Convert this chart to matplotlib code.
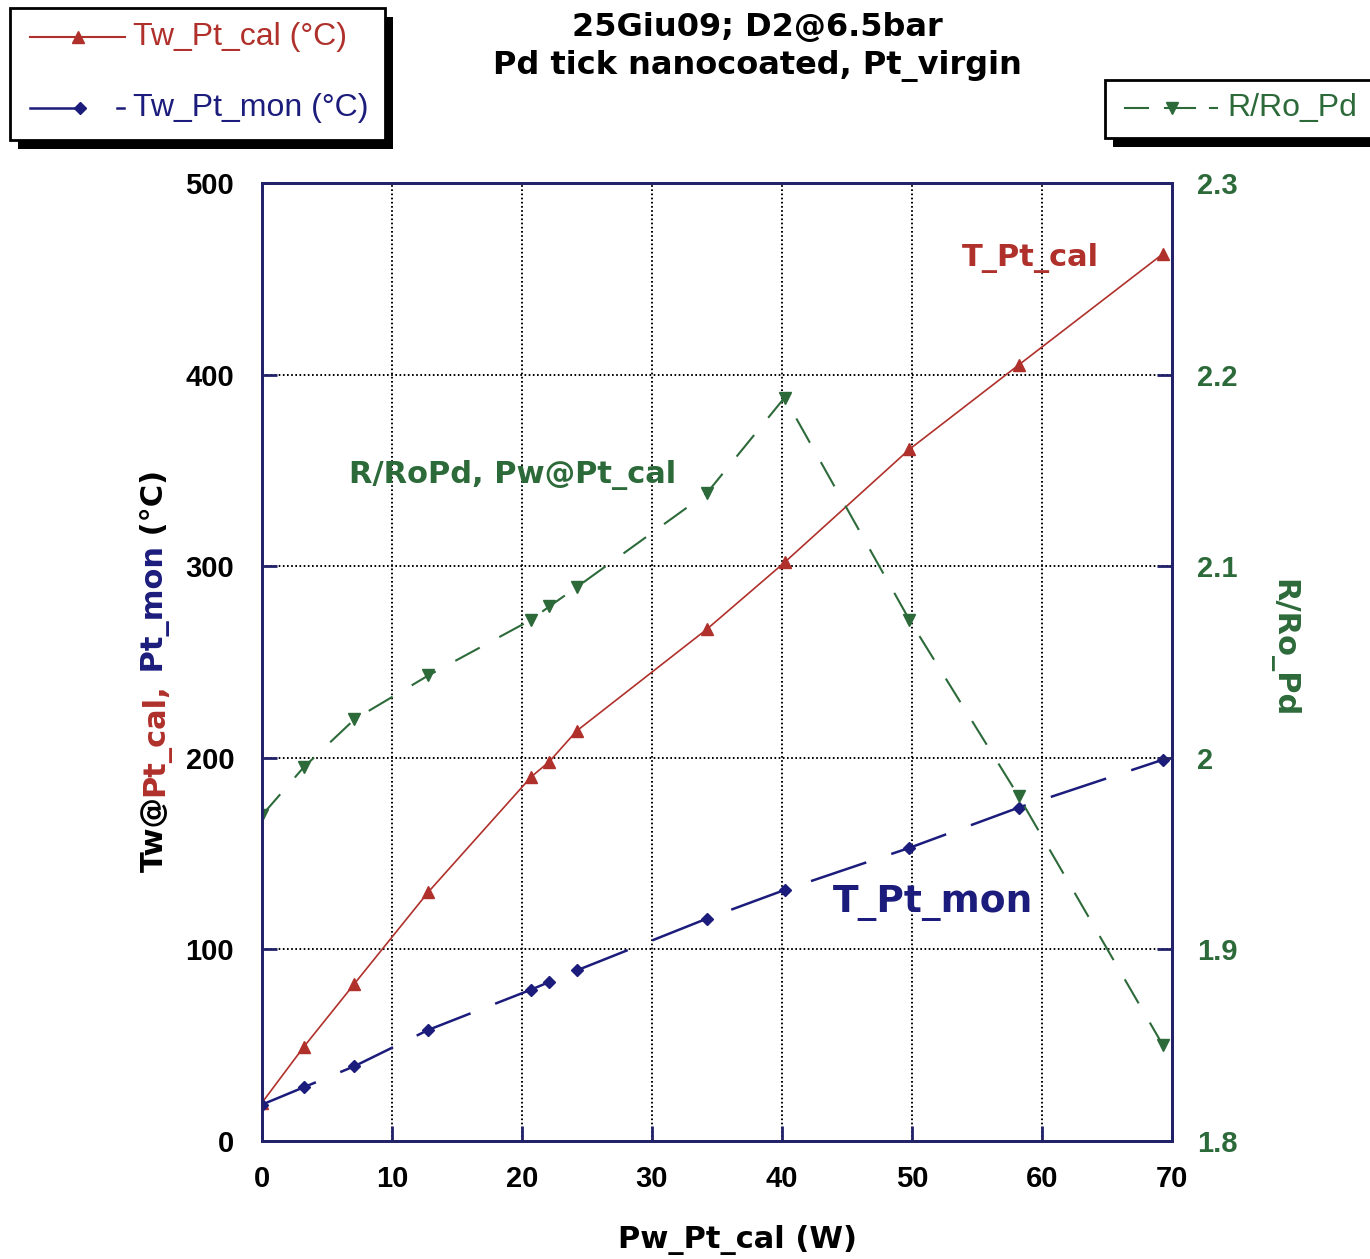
import matplotlib
matplotlib.use("Agg")
import matplotlib.pyplot as plt
from matplotlib.patches import Rectangle
from matplotlib.lines import Line2D

# data
pw = [0, 3.2, 7.1, 12.8, 20.7, 22.1, 24.2, 34.2, 40.2, 49.8, 58.2, 69.3]
t_cal = [20, 49, 82, 130, 190, 198, 214, 267, 302, 361, 405, 463]
t_mon = [19, 28, 39, 58, 79, 83, 89, 116, 131, 153, 174, 199]
r_ro = [1.970, 1.995, 2.020, 2.043, 2.072, 2.079, 2.089, 2.138, 2.188, 2.072, 1.980, 1.850]

x_ticks = [0, 10, 20, 30, 40, 50, 60, 70]
y_ticks = [0, 100, 200, 300, 400, 500]
r_ticks = [1.8, 1.9, 2.0, 2.1, 2.2, 2.3]

RED = "#b0302b"
BLUE = "#1c1c7c"
GREEN = "#2d6a3a"
NAVY = "#22226a"
BOLD = 'DejaVu Sans'

W, H = 1370, 1259
plt.rcParams['lines.scale_dashes'] = False
plt.rcParams['font.family'] = ['Liberation Sans', 'DejaVu Sans']

fig = plt.figure(figsize=(W / 100, H / 100), dpi=100)
fig.patch.set_facecolor('white')


def fx(x):
    return x / W


def fy(y):
    return 1 - y / H


ax = fig.add_axes([fx(262), fy(1141), 910 / W, 958 / H])
ax2 = ax.twinx()

ax.plot(pw, t_cal, color=RED, lw=1.2, marker='^', ms=9, mec=RED, mfc=RED, zorder=3)
ax.plot(pw, t_mon, color=BLUE, lw=1.8, dashes=(42, 19), marker='D', ms=6,
        mec=BLUE, mfc=BLUE, zorder=3)
ax2.plot(pw, r_ro, color=GREEN, lw=1.5, dashes=(20, 16), marker='v', ms=9,
         mec=GREEN, mfc=GREEN)

ax.set_xlim(0, 70)
ax.set_ylim(0, 500)
ax2.set_ylim(1.8, 2.3)
ax.set_xticks(x_ticks)
ax.set_yticks(y_ticks)
ax2.set_yticks(r_ticks)
ax2.set_yticklabels(['%g' % v for v in r_ticks])

ax.grid(True, color='black', linestyle=(0, (1.2, 1.8)), lw=1.4)
for a in (ax, ax2):
    for s in a.spines.values():
        s.set_color(NAVY)
        s.set_linewidth(2)
ax.tick_params(axis='x', direction='in', length=11, width=2, color=NAVY, pad=17,
               labelsize=21)
ax.tick_params(axis='y', direction='in', length=11, width=2, color=NAVY, pad=20,
               labelsize=21)
ax2.tick_params(direction='in', length=11, width=2, color=NAVY, pad=18,
                labelsize=21, labelcolor=GREEN)
for lab in ax.get_xticklabels() + ax.get_yticklabels() + ax2.get_yticklabels():
    lab.set_fontweight('bold')

# titles and labels
fig.text(fx(757), fy(28), "25Giu09; D2@6.5bar", ha='center', va='center',
         fontsize=23, fontweight='bold', family=BOLD)
fig.text(fx(757), fy(66), "Pd tick nanocoated, Pt_virgin", ha='center', va='center',
         fontsize=23, fontweight='bold', family=BOLD)
fig.text(fx(738), fy(1240), "Pw_Pt_cal (W)", ha='center', va='center',
         fontsize=22, fontweight='bold', family=BOLD)
fig.text(fx(1283), fy(648), "R/Ro_Pd", ha='center', va='center', rotation=-90,
         fontsize=22, fontweight='bold', color=GREEN, family=BOLD)

ax.text(fx(1030), fy(258), "T_Pt_cal", transform=fig.transFigure, ha='center',
        va='center', fontsize=22, fontweight='bold', color=RED, family=BOLD)
ax.text(fx(513), fy(475), "R/RoPd, Pw@Pt_cal", transform=fig.transFigure, ha='center',
        va='center', fontsize=22, fontweight='bold', color=GREEN, family=BOLD)
ax.text(fx(933), fy(903), "T_Pt_mon", transform=fig.transFigure, ha='center',
        va='center', fontsize=27, fontweight='bold', color=BLUE, family=BOLD)


# legend boxes with drop shadow
def box(x0, y0, x1, y1):
    fig.add_artist(Rectangle((fx(x0 + 8), fy(y1 + 9)), (x1 - x0) / W, (y1 - y0) / H,
                             transform=fig.transFigure, facecolor='black',
                             edgecolor='black', lw=0))
    fig.add_artist(Rectangle((fx(x0), fy(y1)), (x1 - x0) / W, (y1 - y0) / H,
                             transform=fig.transFigure, facecolor='white',
                             edgecolor='black', lw=2))


def seg(xs, y, color, lw=1.5, **kw):
    fig.add_artist(Line2D([fx(x) for x in xs], [fy(y)] * len(xs), transform=fig.transFigure,
                          color=color, lw=lw, **kw))


box(10, 8, 385, 140)
seg([30, 125], 37, RED, lw=1.5)
seg([78], 37, RED, marker='^', ms=9, mfc=RED, mec=RED, ls='none')
fig.text(fx(133), fy(37), "Tw_Pt_cal (°C)", ha='left', va='center', fontsize=23, color=RED)
seg([30, 80], 108, BLUE, lw=1.8)
seg([80], 108, BLUE, marker='D', ms=6, mfc=BLUE, mec=BLUE, ls='none')
seg([117, 124], 108, BLUE, lw=1.8)
fig.text(fx(133), fy(108), "Tw_Pt_mon (°C)", ha='left', va='center', fontsize=23, color=BLUE)

box(1105, 80, 1400, 138)
seg([1125, 1148], 108, GREEN, lw=1.5)
seg([1165, 1195], 108, GREEN, lw=1.5)
seg([1172], 108, GREEN, marker='v', ms=9, mfc=GREEN, mec=GREEN, ls='none')
seg([1210, 1217], 108, GREEN, lw=1.5)
fig.text(fx(1227), fy(108), "R/Ro_Pd", ha='left', va='center', fontsize=23, color=GREEN)

# multicoloured left axis label
fig.canvas.draw()
renderer = fig.canvas.get_renderer()
pieces = [("Tw@", "black"), ("Pt_cal,", RED), (" Pt_mon", BLUE), (" (°C)", "black")]
ya = H - 872
for s, c in pieces:
    t = fig.text(fx(163), ya / H, s, rotation=90, rotation_mode='anchor', ha='left',
                 va='baseline', color=c, fontsize=22, fontweight='bold', family=BOLD)
    bb = t.get_window_extent(renderer)
    ya += bb.height

fig.savefig("out.png", dpi=100)
